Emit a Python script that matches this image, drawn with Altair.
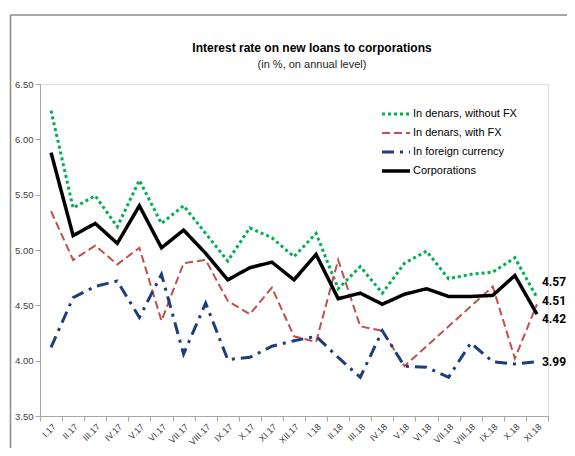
import altair as alt
import pandas as pd

months = ["I.17", "II.17", "III.17", "IV.17", "V.17", "VI.17", "VII.17", "VIII.17",
          "IX.17", "X.17", "XI.17", "XII.17", "I.18", "II.18", "III.18", "IV.18",
          "V.18", "VI.18", "VII.18", "VIII.18", "IX.18", "X.18", "XI.18"]

without_fx = [6.26, 5.38, 5.49, 5.21, 5.63, 5.24, 5.40, 5.15, 4.90, 5.20, 5.11, 4.94,
              5.15, 4.65, 4.85, 4.61, 4.88, 4.99, 4.74, 4.78, 4.80, 4.93, 4.57]
with_fx = [5.35, 4.91, 5.04, 4.87, 5.02, 4.36, 4.88, 4.91, 4.54, 4.42, 4.66, 4.22,
           4.17, 4.91, 4.31, 4.27, 3.95, 4.13, 4.31, 4.49, 4.67, 4.02, 4.51]
foreign = [4.12, 4.57, 4.67, 4.72, 4.39, 4.78, 4.06, 4.52, 4.01, 4.03, 4.13, 4.18,
           4.22, 4.03, 3.85, 4.27, 3.95, 3.94, 3.85, 4.16, 3.99, 3.97, 3.99]
corporations = [5.88, 5.13, 5.24, 5.06, 5.40, 5.02, 5.18, 4.97, 4.73, 4.84, 4.89, 4.73,
                4.96, 4.56, 4.61, 4.51, 4.60, 4.65, 4.58, 4.58, 4.59, 4.77, 4.42]

series_names = ["In denars, without FX", "In denars, with FX", "In foreign currency", "Corporations"]
series_values = [without_fx, with_fx, foreign, corporations]
colors = ["#00B050", "#C0504D", "#1F3D7A", "#000000"]
dashes = [[3, 3], [8, 4], [12, 6, 3, 6], [1, 0]]
widths = [3, 2, 3, 3.5]
end_labels = ["4.57", "4.51", "3.99", "4.42"]
end_dy = [-16, -3, 0, 5]

title = "Interest rate on new loans to corporations"
subtitle = "(in %, on annual level)"

FONT = "Liberation Sans, Arial, sans-serif"
NUMFONT = "Roboto, Liberation Sans, sans-serif"

W, H = 508, 332
TOP = 76

x_enc = alt.X("month:N", sort=months, scale=alt.Scale(domain=months, paddingInner=0, paddingOuter=0),
              axis=alt.Axis(title=None, labelAngle=-45, labelFontSize=9, labelColor="#404040",
                            labelFont=FONT, tickBand="extent", tickSize=5, tickColor="#A6A6A6",
                            domainColor="#A6A6A6", labelPadding=1, grid=False))
y_enc = alt.Y("value:Q", scale=alt.Scale(domain=[3.5, 6.5], nice=False, zero=False),
              axis=alt.Axis(title=None, values=[3.5, 4.0, 4.5, 5.0, 5.5, 6.0, 6.5], format=".2f",
                            labelFontSize=9.5, labelColor="#404040", labelFont=FONT, tickSize=5,
                            tickColor="#A6A6A6", domainColor="#A6A6A6", labelPadding=2, grid=False))

layers = []
for name, vals, c, d, w in zip(series_names, series_values, colors, dashes, widths):
    df = pd.DataFrame({"month": months, "value": vals, "series": name})
    layers.append(alt.Chart(df).mark_line(color=c, strokeDash=d, strokeWidth=w, strokeCap="butt")
                  .encode(x=x_enc, y=y_enc))

# end labels
for i, (name, vals) in enumerate(zip(series_names, series_values)):
    df = pd.DataFrame({"month": [months[-1]], "value": [vals[-1]], "label": [end_labels[i]]})
    layers.append(alt.Chart(df).mark_text(align="left", baseline="middle", dx=5, dy=end_dy[i],
                                          fontSize=12, fontWeight="bold", font=NUMFONT, color="#000000")
                  .encode(x=alt.X("month:N", sort=months), y="value:Q", text="label:N"))

# legend (manual)
one = pd.DataFrame({"t": [0]})
for i, (name, c, d, w) in enumerate(zip(series_names, colors, dashes, widths)):
    yy = 30 + 19 * i
    layers.append(alt.Chart(one).mark_rule(color=c, strokeDash=d, strokeWidth=w, strokeCap="butt")
                  .encode(x=alt.value(342), x2=alt.value(370), y=alt.value(yy)))
    layers.append(alt.Chart(pd.DataFrame({"t": [name]})).mark_text(
        align="left", baseline="middle", fontSize=11, font=FONT, color="#000000")
        .encode(x=alt.value(373), y=alt.value(yy), text="t:N"))

# titles
layers.append(alt.Chart(pd.DataFrame({"t": [title]})).mark_text(
    align="center", baseline="alphabetic", fontSize=12, fontWeight="bold", font=FONT, color="#000000")
    .encode(x=alt.value(272), y=alt.value(-32), text="t:N"))
layers.append(alt.Chart(pd.DataFrame({"t": [subtitle]})).mark_text(
    align="center", baseline="alphabetic", fontSize=11, font=FONT, color="#262626")
    .encode(x=alt.value(272), y=alt.value(-16), text="t:N"))

# outer frame (cropped border)
layers.append(alt.Chart(one).mark_rule(color="#8C8C8C", strokeWidth=1.5)
              .encode(x=alt.value(-29.5), x2=alt.value(540), y=alt.value(-69)))
layers.append(alt.Chart(one).mark_rule(color="#8C8C8C", strokeWidth=1.5)
              .encode(x=alt.value(-29.5), y=alt.value(-69), y2=alt.value(380)))

chart = alt.layer(*layers).properties(
    width=W, height=H,
    autosize=alt.AutoSizeParams(type="none"),
    padding={"left": 32, "top": TOP, "right": 19, "bottom": 32},
).configure_view(stroke=None).configure(background="white")

chart.save("out.html", embed_options={"renderer": "svg", "actions": False})
